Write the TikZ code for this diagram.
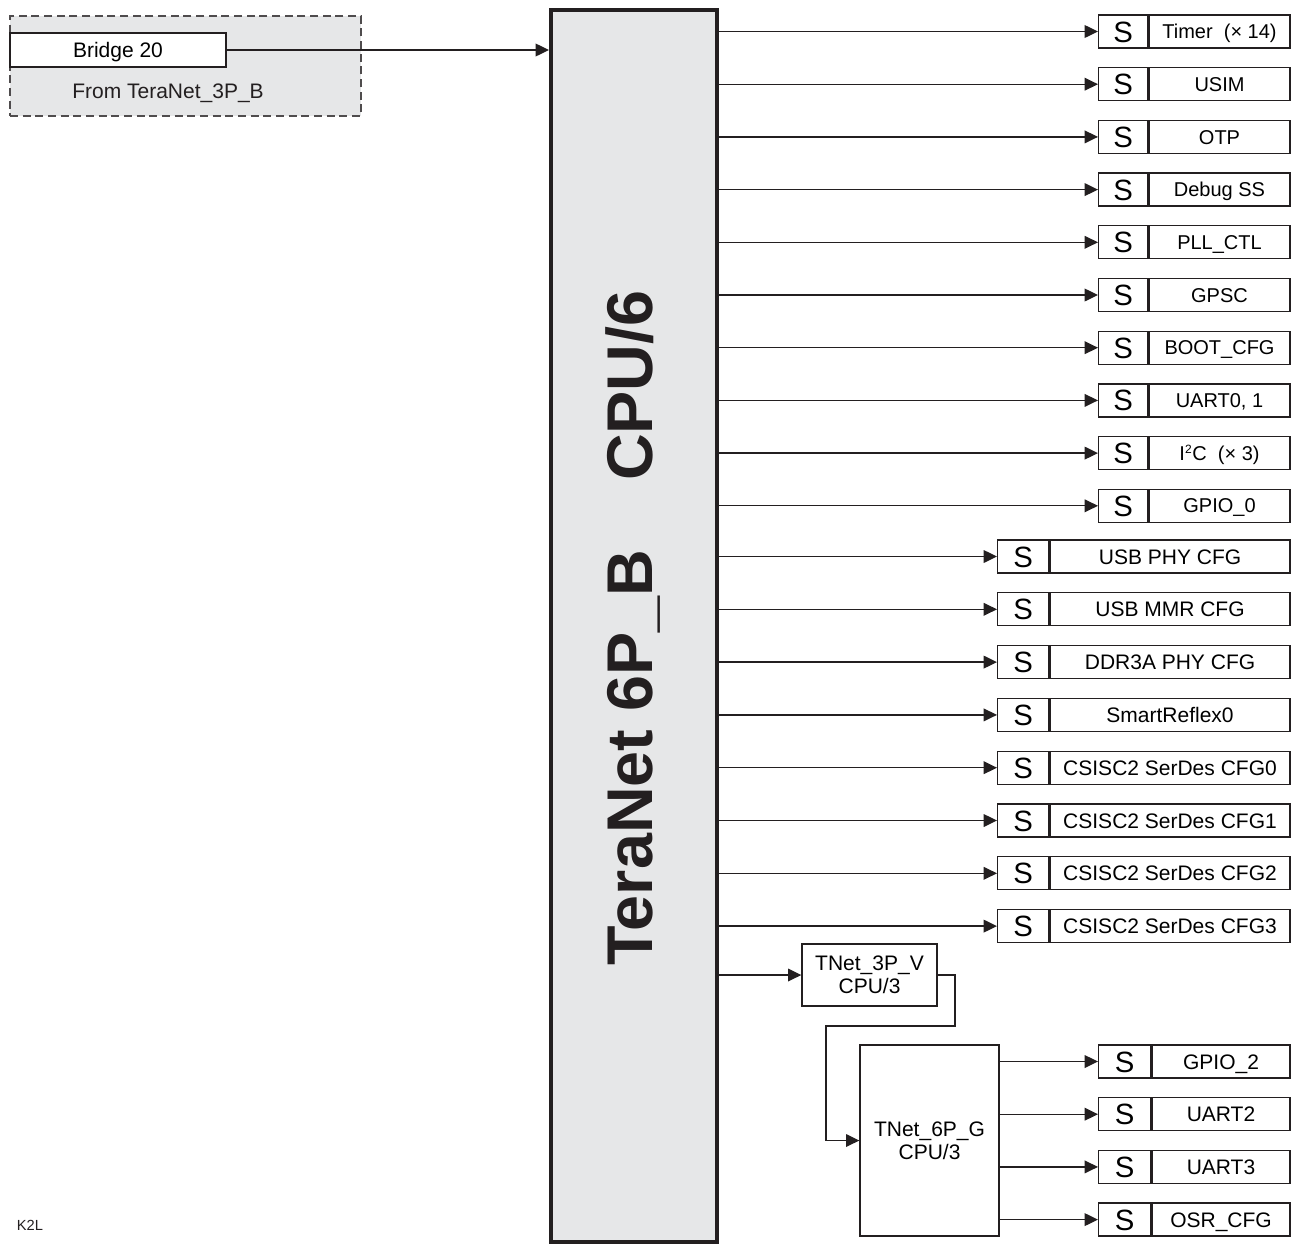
\documentclass[tikz,border=0pt]{standalone}
\usepackage{fontspec}
\setmainfont{Liberation Sans}
\usetikzlibrary{arrows.meta}
\definecolor{ink}{HTML}{231F20}
\definecolor{panel}{HTML}{E6E7E8}
\tikzset{
  arr/.style={-{Triangle[length=10pt,width=9.5pt]}, line width=1pt, draw=ink},
  sbox/.style={draw=ink, line width=1pt, minimum height=24.75pt, inner sep=0pt, anchor=west, fill=white,
    text height=15.75pt, text depth=0pt, font=\fontsize{22}{22}\selectfont},
  nbox/.style={draw=ink, line width=1pt, minimum height=24.75pt, inner sep=0pt, anchor=west, fill=white,
    text height=11.3pt, text depth=0pt, font=\fontsize{15.75}{17}\selectfont},
  tbox/.style={draw=ink, line width=1pt, inner sep=0pt, align=center, fill=white,
    font=\fontsize{15.75}{17.25}\selectfont},
  lbl/.style={inner sep=0pt, text=ink, font=\fontsize{15.75}{17}\selectfont}
}
\begin{document}
\begin{tikzpicture}[x=0.75pt,y=-0.75pt]
\useasboundingbox (0,0) rectangle (1294,1243);

% group box at top left
\node[draw=ink!80, dash pattern=on 6pt off 3.5pt, line width=1pt, fill=panel, minimum width=263.25pt,
  minimum height=75pt, inner sep=0pt] (grp) at (185.5,66) {};
\node[draw=ink, line width=1pt, fill=white, minimum width=162pt, minimum height=25.5pt, inner sep=0pt,
  text height=11.3pt, text depth=0pt, font=\fontsize{15.75}{17}\selectfont] (br) at (118,50) {Bridge 20};
\node[lbl] (from) at (168,93) {From TeraNet\_3P\_B};

% main switch
\node[draw=ink, line width=3pt, fill=panel, minimum width=124.5pt, minimum height=924pt, inner sep=0pt]
  (main) at (634,626) {};
\node[rotate=90, anchor=base, inner sep=0pt, text=ink, font=\bfseries\fontsize{48.5}{50}\selectfont]
  (title) at (652,628) {TeraNet 6P\_B\hspace{52pt}CPU/6};

\draw[arr] (br.east) -- (br.east -| main.west);

% top slaves
\foreach \t [count=\i] in {{Timer\ \ (\texttimes\ 14)}, USIM, OTP, Debug SS, PLL\_CTL, GPSC, BOOT\_CFG,
  {UART0, 1}, {I\textsuperscript{\fontsize{9}{9}\selectfont 2}C\ \ (\texttimes\ 3)}, GPIO\_0} {
  \pgfmathsetmacro\yy{31.5+(\i-1)*52.7}
  \node[sbox, minimum width=36.75pt] (s\i) at (1098,\yy) {S};
  \node[nbox, minimum width=105.75pt, text height=10.75pt, font=\fontsize{15}{16}\selectfont] (n\i) at (s\i.east) {\t};
  \draw[arr] (main.east |- s\i.west) -- (s\i.west);
}

% middle slaves
\foreach \t [count=\i] in {USB PHY CFG, USB MMR CFG, DDR3A PHY CFG, SmartReflex0,
  CSISC2 SerDes CFG0, CSISC2 SerDes CFG1, CSISC2 SerDes CFG2, CSISC2 SerDes CFG3} {
  \pgfmathsetmacro\yy{556.5+(\i-1)*52.8}
  \node[sbox, minimum width=38.25pt] (m\i) at (997,\yy) {S};
  \node[nbox, minimum width=180pt] (mn\i) at (m\i.east) {\t};
  \draw[arr] (main.east |- m\i.west) -- (m\i.west);
}

% sub switches
\node[tbox, minimum width=101.25pt, minimum height=46.5pt] (v) at (869.5,975) {TNet\_3P\_V\\CPU/3};
\node[tbox, minimum width=104.25pt, minimum height=143.25pt] (g) at (929.5,1140.5) {TNet\_6P\_G\\CPU/3};
\draw[arr] (main.east |- v.west) -- (v.west);
\coordinate (j1) at (955,1026);
\coordinate (j2) at (826,1026);
\draw[arr] (v.east) -| (j1) -- (j2) |- (g.west);

% bottom slaves
\foreach \t [count=\i] in {GPIO\_2, UART2, UART3, OSR\_CFG} {
  \pgfmathsetmacro\yy{1061.5+(\i-1)*52.7}
  \node[sbox, minimum width=39pt] (b\i) at (1098,\yy) {S};
  \node[nbox, minimum width=103.5pt] (bn\i) at (b\i.east) {\t};
  \draw[arr] (g.east |- b\i.west) -- (b\i.west);
}

\node[inner sep=0pt, text=ink, font=\fontsize{11}{12}\selectfont] (k2l) at (30,1225) {K2L};
\end{tikzpicture}
\end{document}
